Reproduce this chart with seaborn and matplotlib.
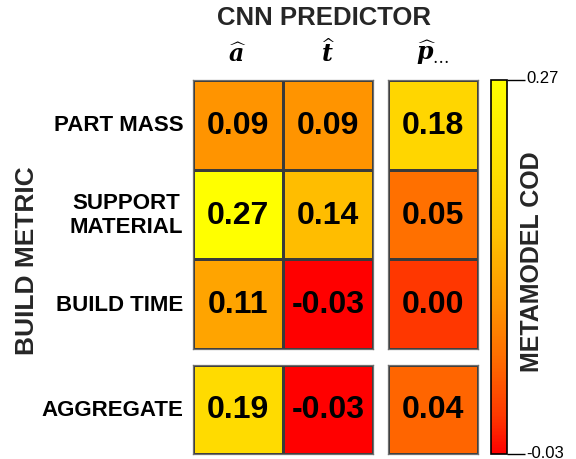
import numpy as np
import pandas as pd
import matplotlib
matplotlib.use("Agg")
import matplotlib.pyplot as plt
import matplotlib.transforms as mtransforms
from matplotlib.colors import LinearSegmentedColormap
import seaborn as sns

# Build metrics (rows) and CNN predictor outputs (columns)
metrics = ["PART MASS", "SUPPORT\nMATERIAL", "BUILD TIME", "AGGREGATE"]
predictors = [r"$\widehat{\mathbfit{a}}$", r"$\widehat{\mathbfit{t}}$", r"$\widehat{\mathbfit{p}}_{\ldots}$"]

cod_a = [0.09, 0.27, 0.11, 0.19]
cod_t = [0.09, 0.14, -0.03, -0.03]
cod_p = [0.18, 0.05, 0.00, 0.04]

vmin, vmax = -0.03, 0.27

sns.set_theme(style="white")
plt.rcParams["font.family"] = ["Liberation Sans", "DejaVu Sans"]
plt.rcParams["mathtext.fontset"] = "dejavuserif"
plt.rcParams["axes.unicode_minus"] = False

# red -> orange -> yellow scale
cmap = LinearSegmentedColormap.from_list(
    "redyellow",
    [(0.0, (1, 0.0, 0)), (0.1, (1, 0.22, 0)), (0.25, (1, 0.42, 0)),
     (0.4, (1, 0.58, 0)), (0.6, (1, 0.77, 0)), (0.75, (1, 0.87, 0)),
     (1.0, (1, 1.0, 0))])

df = pd.DataFrame({predictors[0]: cod_a, predictors[1]: cod_t, predictors[2]: cod_p},
                  index=metrics)

W, H = 576, 460
fig = plt.figure(figsize=(W / 100, H / 100), dpi=100)

def box(x0, y0, x1, y1):
    return [x0 / W, 1 - y1 / H, (x1 - x0) / W, (y1 - y0) / H]

ax_tl = fig.add_axes(box(193, 81, 373, 350))
ax_tr = fig.add_axes(box(388, 81, 478, 350))
ax_bl = fig.add_axes(box(193, 366, 373, 455))
ax_br = fig.add_axes(box(388, 366, 478, 455))
cax = fig.add_axes(box(491, 81, 507, 455))

common = dict(cmap=cmap, vmin=vmin, vmax=vmax, annot=True, fmt=".2f",
              annot_kws=dict(color="black", fontsize=23, fontweight="bold"),
              linewidths=0.8, linecolor="#3a3a3a")

sns.heatmap(df.iloc[:3, :2], ax=ax_tl, cbar=True, cbar_ax=cax, **common)
sns.heatmap(df.iloc[:3, 2:], ax=ax_tr, cbar=False, **common)
sns.heatmap(df.iloc[3:, :2], ax=ax_bl, cbar=False, **common)
sns.heatmap(df.iloc[3:, 2:], ax=ax_br, cbar=False, **common)

for ax in (ax_tl, ax_tr, ax_bl, ax_br):
    for s in ax.spines.values():
        s.set_visible(True)
        s.set_color("#707070")
        s.set_linewidth(0.9)
    ax.tick_params(length=0)

# row labels on the left blocks
for ax in (ax_tl, ax_bl):
    ax.tick_params(axis="y", pad=7)
    for lab in ax.get_yticklabels():
        lab.set_rotation(0)
        lab.set_fontsize(16)
        lab.set_fontweight("bold")
        lab.set_multialignment("center")
        lab.set_color("black")
for ax in (ax_tr, ax_br):
    ax.set_yticklabels([])

# column labels on top
for ax in (ax_tl, ax_tr):
    ax.xaxis.tick_top()
    ax.tick_params(axis="x", pad=10, labelsize=17)
    for lab in ax.get_xticklabels():
        lab.set_rotation(0)
        lab.set_color("black")
for ax in (ax_bl, ax_br):
    ax.set_xticklabels([])
for ax in (ax_tl, ax_tr, ax_bl, ax_br):
    ax.set_xlabel("")
    ax.set_ylabel("")

# colorbar with end ticks only
cbar = ax_tl.collections[0].colorbar
cbar.set_ticks([vmin, vmax])
cbar.set_ticklabels(["-0.03", "0.27"])
cbar.ax.tick_params(length=13, width=1, color="black", labelsize=12, pad=1,
                    labelcolor="black", direction="out")
cbar.outline.set_edgecolor("black")
cbar.outline.set_linewidth(1.2)
lo_lab, hi_lab = cbar.ax.get_yticklabels()
hi_lab.set_transform(hi_lab.get_transform() +
                     mtransforms.ScaledTranslation(0, 4 / 100, fig.dpi_scale_trans))
lo_lab.set_transform(lo_lab.get_transform() +
                     mtransforms.ScaledTranslation(0, 3 / 100, fig.dpi_scale_trans))

fig.text(324 / W, 1 - 18 / H, "CNN PREDICTOR", ha="center", va="center",
         fontsize=18.5, fontweight="bold")
fig.text(27 / W, 1 - 261 / H, "BUILD METRIC", ha="center", va="center",
         rotation=90, fontsize=19, fontweight="bold")
fig.text(532 / W, 1 - 262 / H, "METAMODEL COD", ha="center", va="center",
         rotation=90, fontsize=18, fontweight="bold")

fig.savefig("out.png", dpi=100)
